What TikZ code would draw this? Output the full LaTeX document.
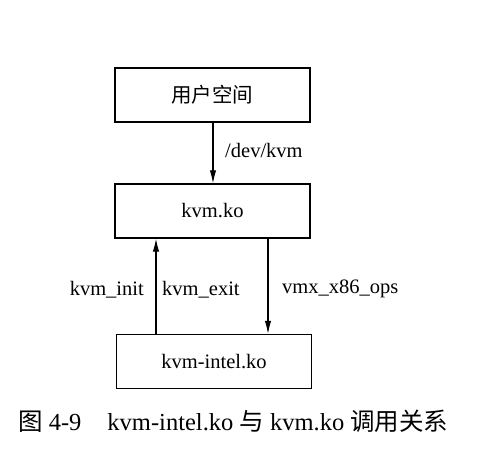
\documentclass[tikz,border=0pt]{standalone}
\usepackage{fontspec}
\setmainfont{Liberation Serif}
\newfontfamily\cjk{Noto Sans CJK SC}
\usetikzlibrary{arrows.meta}
\begin{document}
\begin{tikzpicture}[x=1pt,y=-1pt,
  box/.style={draw,line width=1.4pt,minimum width=195pt,minimum height=54pt,inner sep=0pt,font=\fontsize{20.5}{24}\selectfont},
  lbl/.style={font=\fontsize{20.5}{24}\selectfont,inner sep=0pt},
  arr/.style={line width=1.1pt,-{Latex[length=13pt,width=6.5pt]}}]
\useasboundingbox (0,0) rectangle (483,475);
\node[box] (us) at (212.5,95) {\cjk 用户空间};
\node[box] (kvm) at (212.5,211) {kvm.ko};
\node[box] (intel) at (214,361.5) {kvm-intel.ko};
\draw[arr] (us.south -| 213,0) -- (kvm.north -| 213,0);
\draw[arr] (intel.north -| 156,0) -- (kvm.south -| 156,0);
\draw[arr] (kvm.south -| 268,0) -- (intel.north -| 268,0);
\node[lbl,anchor=base west] (l1) at (225,157) {/dev/kvm};
\node[lbl,anchor=base east] (l2) at (144,295) {kvm\_init};
\node[lbl,anchor=base west] (l3) at (162,295) {kvm\_exit};
\node[lbl,anchor=base west] (l4) at (282,293) {vmx\_x86\_ops};
\node[lbl,anchor=base west,font=\fontsize{24.5}{28}\selectfont] (cap) at (18,430) {{\cjk 图} 4-9\hspace{26pt}kvm-intel.ko {\cjk 与} kvm.ko {\cjk 调用关系}};
\end{tikzpicture}
\end{document}
